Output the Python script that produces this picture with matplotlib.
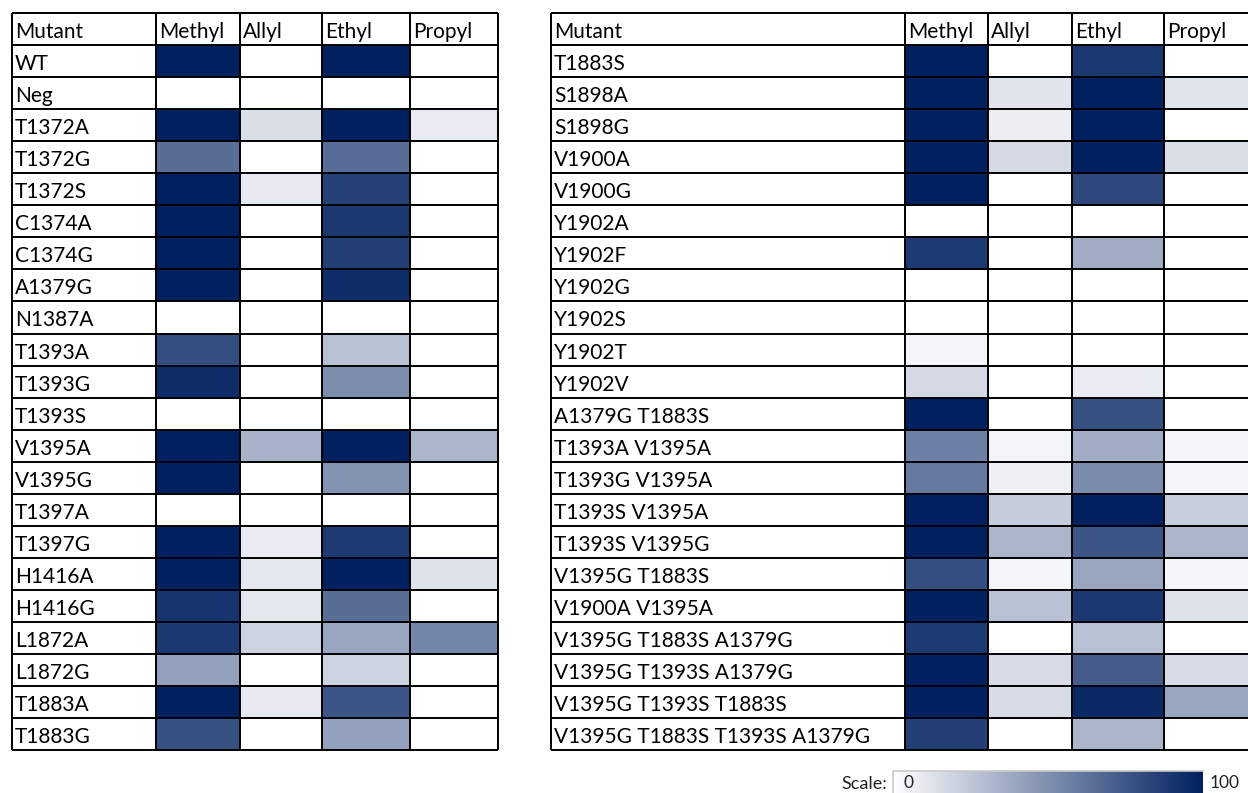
import numpy as np
import matplotlib
matplotlib.use("Agg")
import matplotlib.pyplot as plt
from matplotlib.colors import LinearSegmentedColormap

# ---- data -------------------------------------------------------------
columns = ["Methyl", "Allyl", "Ethyl", "Propyl"]

left_mutants = ["WT", "Neg", "T1372A", "T1372G", "T1372S", "C1374A", "C1374G",
                "A1379G", "N1387A", "T1393A", "T1393G", "T1393S", "V1395A",
                "V1395G", "T1397A", "T1397G", "H1416A", "H1416G", "L1872A",
                "L1872G", "T1883A", "T1883G"]
left_methyl = [100, 0, 100, 65, 100, 100, 100, 100, 0, 79, 94, 0, 100, 100, 0,
               100, 100, 91, 89, 42, 100, 78]
left_allyl = [0, 0, 15, 0, 10, 0, 0, 0, 0, 0, 0, 0, 34, 0, 0, 9, 11, 11, 20, 0,
              10, 0]
left_ethyl = [100, 0, 100, 66, 85, 89, 86, 94, 0, 28, 51, 0, 100, 49, 0, 88,
              100, 65, 40, 20, 76, 42]
left_propyl = [0, 0, 9, 0, 0, 0, 0, 0, 0, 0, 0, 0, 33, 0, 0, 0, 13, 0, 55, 0,
               0, 0]

right_mutants = ["T1883S", "S1898A", "S1898G", "V1900A", "V1900G", "Y1902A",
                 "Y1902F", "Y1902G", "Y1902S", "Y1902T", "Y1902V",
                 "A1379G T1883S", "T1393A V1395A", "T1393G V1395A",
                 "T1393S V1395A", "T1393S V1395G", "V1395G T1883S",
                 "V1900A V1395A", "V1395G T1883S A1379G",
                 "V1395G T1393S A1379G", "V1395G T1393S T1883S",
                 "V1395G T1883S T1393S A1379G"]
right_methyl = [100, 100, 100, 100, 100, 0, 88, 0, 0, 5, 17, 100, 57, 60, 100,
                100, 79, 100, 88, 100, 100, 86]
right_allyl = [0, 12, 8, 17, 0, 0, 0, 0, 0, 0, 0, 0, 5, 7, 23, 33, 4, 28, 0,
               16, 16, 0]
right_ethyl = [89, 100, 100, 100, 82, 0, 37, 0, 0, 0, 9, 78, 37, 52, 100, 76,
               40, 89, 28, 73, 96, 33]
right_propyl = [0, 12, 0, 15, 0, 0, 0, 0, 0, 0, 0, 0, 4, 5, 22, 33, 4, 13, 0,
                16, 40, 0]

scale_min, scale_max = 0, 100

# ---- styling ----------------------------------------------------------
NAVY = "#002060"
cmap = LinearSegmentedColormap.from_list("white_navy", ["#FFFFFF", NAVY])
FONT = "Lato"
FS = 15

fig = plt.figure(figsize=(12.48, 7.93), dpi=100)
ax = fig.add_axes([0, 0, 1, 1])
ax.set_xlim(0, 1248)
ax.set_ylim(793, 0)
ax.axis("off")

top, row_h, n_rows = 13.0, 32.05, 22
row_edges = top + row_h * np.arange(n_rows + 2)


def draw_table(col_edges, mutants, values):
    data = np.array(values).T  # rows x columns
    ax.pcolormesh(col_edges[1:], row_edges[1:], data, cmap=cmap,
                  vmin=scale_min, vmax=scale_max, shading="flat", zorder=1)
    lw = 1.4
    ax.hlines(row_edges, col_edges[0], col_edges[-1], color="black",
              linewidth=lw, zorder=3)
    ax.vlines(col_edges, row_edges[0], row_edges[-1], color="black",
              linewidth=lw, zorder=3)
    ax.text(col_edges[0] + 3, row_edges[1] - 7, "Mutant", fontsize=FS,
            family=FONT, va="baseline", ha="left", zorder=4)
    for j, name in enumerate(columns):
        ax.text(col_edges[j + 1] + 3, row_edges[1] - 7, name, fontsize=FS,
                family=FONT, va="baseline", ha="left", zorder=4)
    for i, name in enumerate(mutants):
        ax.text(col_edges[0] + 3, row_edges[i + 2] - 7, name, fontsize=FS,
                family=FONT, va="baseline", ha="left", zorder=4)


draw_table(np.array([12, 156, 240, 322, 410, 498]), left_mutants,
           [left_methyl, left_allyl, left_ethyl, left_propyl])
draw_table(np.array([551, 905, 988, 1072, 1164, 1256]), right_mutants,
           [right_methyl, right_allyl, right_ethyl, right_propyl])

# ---- colour scale legend ----------------------------------------------
bar_x0, bar_x1, bar_y0, bar_y1 = 893, 1203, 771, 800
grad = np.linspace(scale_min, scale_max, 256)[None, :]
ax.imshow(grad, cmap=cmap, vmin=scale_min, vmax=scale_max, aspect="auto",
          extent=(bar_x0, bar_x1, bar_y1, bar_y0), zorder=2)
ax.plot([bar_x0, bar_x0, bar_x1], [bar_y1, bar_y0, bar_y0], color="#C8C8C8",
        linewidth=1.2, zorder=3)
ax.text(bar_x0 - 6, 784, "Scale:", fontsize=13, family=FONT, ha="right",
        va="center", color="#222222")
ax.text(bar_x0 + 10, 783, str(scale_min), fontsize=12.5, family=FONT,
        ha="left", va="center", color="#222222", zorder=4)
ax.text(bar_x1 + 7, 783, str(scale_max), fontsize=12.5, family=FONT,
        ha="left", va="center", color="#222222")

ax.set_xlim(0, 1248)
ax.set_ylim(793, 0)
fig.savefig("out.png", dpi=100)
